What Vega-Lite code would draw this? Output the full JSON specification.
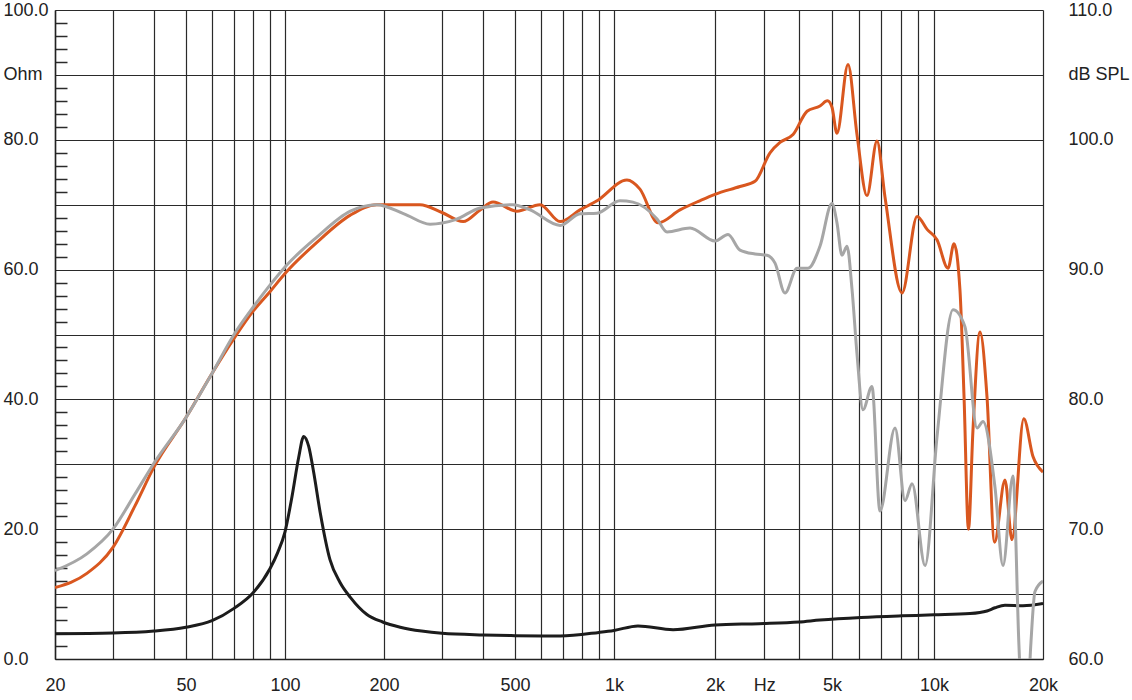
{
  "$schema": "https://vega.github.io/schema/vega-lite/v6.json",
  "width": 988,
  "height": 649,
  "autosize": {"type": "none"},
  "padding": {"left": 55, "top": 10, "right": 89, "bottom": 41},
  "background": "white",
  "config": {
    "view": {"stroke": null},
    "font": "Liberation Sans",
    "axis": {"labelFont": "Liberation Sans", "labelFontSize": 18, "labelColor": "#222222", "title": null, "labelOverlap": false, "labelFlush": false, "labelBound": false}
  },
  "datasets": {
    "imp": [
      {"f":20,"ohm":3.9},{"f":30,"ohm":4.0},{"f":40,"ohm":4.3},{"f":50,"ohm":4.9},{"f":60,"ohm":5.9},{"f":70,"ohm":7.8},{"f":80,"ohm":10.2},{"f":90,"ohm":13.9},{"f":95,"ohm":16.4},{"f":100,"ohm":19.6},{"f":105,"ohm":25.0},{"f":110,"ohm":31.0},{"f":114,"ohm":34.3},{"f":118,"ohm":32.8},{"f":122,"ohm":29.0},{"f":128,"ohm":22.5},{"f":137,"ohm":15.3},{"f":147,"ohm":11.8},{"f":158,"ohm":9.5},{"f":177,"ohm":6.9},{"f":198,"ohm":5.7},{"f":224,"ohm":4.9},{"f":260,"ohm":4.3},{"f":300,"ohm":3.95},{"f":400,"ohm":3.7},{"f":500,"ohm":3.6},{"f":686,"ohm":3.55},{"f":900,"ohm":4.1},{"f":1000,"ohm":4.4},{"f":1179,"ohm":5.1},{"f":1500,"ohm":4.5},{"f":2000,"ohm":5.25},{"f":2876,"ohm":5.45},{"f":4000,"ohm":5.7},{"f":4612,"ohm":6.0},{"f":6093,"ohm":6.4},{"f":8050,"ohm":6.65},{"f":10000,"ohm":6.8},{"f":12570,"ohm":7.0},{"f":14008,"ohm":7.4},{"f":14742,"ohm":7.9},{"f":15705,"ohm":8.3},{"f":17610,"ohm":8.2},{"f":20000,"ohm":8.55}
    ],
    "orange": [
      {"f":20,"db":65.5},{"f":25,"db":66.6},{"f":30,"db":68.6},{"f":35,"db":71.8},{"f":40,"db":74.8},{"f":50,"db":78.6},{"f":60,"db":82.0},{"f":70,"db":84.7},{"f":80,"db":86.8},{"f":90,"db":88.3},{"f":100,"db":89.7},{"f":125,"db":92.1},{"f":158,"db":94.2},{"f":190,"db":95.0},{"f":257,"db":95.0},{"f":300,"db":94.4},{"f":348,"db":93.7},{"f":392,"db":94.6},{"f":429,"db":95.2},{"f":507,"db":94.5},{"f":596,"db":95.0},{"f":686,"db":93.7},{"f":788,"db":94.6},{"f":888,"db":95.3},{"f":1093,"db":96.9},{"f":1195,"db":96.2},{"f":1353,"db":93.6},{"f":1573,"db":94.6},{"f":1800,"db":95.3},{"f":2000,"db":95.8},{"f":2458,"db":96.4},{"f":2782,"db":96.8},{"f":3149,"db":99.0},{"f":3420,"db":99.8},{"f":3808,"db":100.4},{"f":4225,"db":102.2},{"f":4612,"db":102.6},{"f":4850,"db":103.0},{"f":5004,"db":102.5},{"f":5176,"db":100.5},{"f":5579,"db":105.8},{"f":5929,"db":100.4},{"f":6345,"db":95.7},{"f":6791,"db":99.9},{"f":7170,"db":95.6},{"f":8050,"db":88.2},{"f":8916,"db":94.1},{"f":9542,"db":93.1},{"f":10192,"db":92.3},{"f":10932,"db":90.1},{"f":11357,"db":92.0},{"f":11797,"db":88.4},{"f":12105,"db":80.2},{"f":12450,"db":70.0},{"f":12810,"db":77.6},{"f":13397,"db":85.2},{"f":14008,"db":80.2},{"f":14700,"db":69.0},{"f":15705,"db":73.8},{"f":16418,"db":69.2},{"f":17700,"db":78.5},{"f":18767,"db":75.6},{"f":20000,"db":74.4}
    ],
    "gray": [
      {"f":20,"db":66.8},{"f":25,"db":68.1},{"f":30,"db":70.0},{"f":35,"db":72.7},{"f":40,"db":75.1},{"f":50,"db":78.6},{"f":60,"db":82.0},{"f":70,"db":85.0},{"f":80,"db":87.1},{"f":90,"db":88.8},{"f":100,"db":90.2},{"f":125,"db":92.5},{"f":158,"db":94.5},{"f":190,"db":95.0},{"f":230,"db":94.3},{"f":276,"db":93.5},{"f":330,"db":93.85},{"f":392,"db":94.75},{"f":493,"db":95.0},{"f":556,"db":94.6},{"f":686,"db":93.4},{"f":788,"db":94.3},{"f":888,"db":94.35},{"f":1042,"db":95.3},{"f":1139,"db":95.2},{"f":1344,"db":93.9},{"f":1439,"db":92.9},{"f":1685,"db":93.2},{"f":2000,"db":92.2},{"f":2227,"db":92.7},{"f":2458,"db":91.5},{"f":2782,"db":91.2},{"f":3072,"db":91.1},{"f":3282,"db":90.5},{"f":3563,"db":88.2},{"f":3935,"db":90.1},{"f":4253,"db":90.1},{"f":4612,"db":91.8},{"f":5004,"db":95.1},{"f":5176,"db":93.6},{"f":5355,"db":91.1},{"f":5541,"db":91.8},{"f":5732,"db":88.5},{"f":5929,"db":83.5},{"f":6176,"db":79.2},{"f":6564,"db":81.0},{"f":6930,"db":71.4},{"f":7675,"db":77.8},{"f":8216,"db":72.2},{"f":8618,"db":73.5},{"f":9413,"db":67.2},{"f":10192,"db":77.1},{"f":11285,"db":86.9},{"f":12176,"db":85.6},{"f":13147,"db":77.8},{"f":13655,"db":78.3},{"f":14742,"db":73.2},{"f":15507,"db":67.2},{"f":16524,"db":74.1},{"f":17165,"db":61.0},{"f":17600,"db":55.0},{"f":18100,"db":56.0},{"f":18500,"db":61.0},{"f":19005,"db":65.2},{"f":20000,"db":66.0}
    ]
  },
  "layer": [
    {
      "data": {"name": "imp"},
      "mark": {"type": "line", "color": "#1c1c1c", "strokeWidth": 3, "interpolate": "monotone", "clip": true},
      "encoding": {
        "x": {
          "field": "f", "type": "quantitative",
          "scale": {"type": "log", "domain": [20, 100, 1000, 2000, 4000, 10000, 20000], "range": [0, 230, 559, 660, 744, 879, 988], "nice": false},
          "axis": {
            "values": [20,30,40,50,60,70,80,90,100,200,300,400,500,600,700,800,900,1000,2000,3000,4000,5000,6000,7000,8000,9000,10000,20000],
            "labelExpr": "datum.value == 3000 ? 'Hz' : (indexof([20,50,100,200,500,1000,2000,5000,10000,20000], datum.value) >= 0 ? (datum.value >= 1000 ? (datum.value / 1000) + 'k' : '' + datum.value) : '')",
            "grid": true, "gridColor": "#2a2a2a", "gridWidth": 1.2,
            "ticks": false, "labelPadding": 17,
            "domain": true, "domainColor": "#222222", "domainWidth": 1.5
          }
        },
        "y": {
          "field": "ohm", "type": "quantitative",
          "scale": {"domain": [0, 100], "nice": false},
          "axis": {
            "orient": "left",
            "values": [0,2,4,6,8,10,12,14,16,18,20,22,24,26,28,30,32,34,36,38,40,42,44,46,48,50,52,54,56,58,60,62,64,66,68,70,72,74,76,78,80,82,84,86,88,90,92,94,96,98,100],
            "labelExpr": "datum.value == 90 ? 'Ohm' : (datum.value % 20 == 0 ? format(datum.value, '.1f') : '')",
            "grid": true, "gridColor": "#2a2a2a", "gridWidth": 1.2,
            "gridOpacity": {"condition": {"test": "datum.value % 10 == 0", "value": 1}, "value": 0},
            "ticks": true, "tickSize": -12, "tickWidth": 1.5, "tickColor": "#2a2a2a",
            "tickOpacity": {"condition": {"test": "datum.value % 10 == 0", "value": 0}, "value": 1},
            "labelAlign": "left", "labelPadding": 64,
            "domain": true, "domainColor": "#222222", "domainWidth": 1.5
          }
        }
      }
    },
    {
      "layer": [
        {
          "data": {"name": "orange"},
          "mark": {"type": "line", "color": "#d9571f", "strokeWidth": 3, "interpolate": "monotone", "clip": true},
          "encoding": {
            "x": {"field": "f", "type": "quantitative"},
            "y": {
              "field": "db", "type": "quantitative",
              "scale": {"domain": [60, 110], "nice": false, "zero": false},
              "axis": {
                "orient": "right",
                "values": [60,65,70,75,80,85,90,95,100,105,110],
                "labelExpr": "datum.value == 105 ? 'dB SPL' : (datum.value % 10 == 0 ? format(datum.value, '.1f') : '')",
                "grid": false, "ticks": false, "domain": false, "labelPadding": 25
              }
            }
          }
        },
        {
          "data": {"name": "gray"},
          "mark": {"type": "line", "color": "#a6a6a6", "strokeWidth": 3, "interpolate": "monotone", "clip": true},
          "encoding": {
            "x": {"field": "f", "type": "quantitative"},
            "y": {"field": "db", "type": "quantitative"}
          }
        }
      ]
    }
  ],
  "resolve": {"scale": {"y": "independent"}}
}
